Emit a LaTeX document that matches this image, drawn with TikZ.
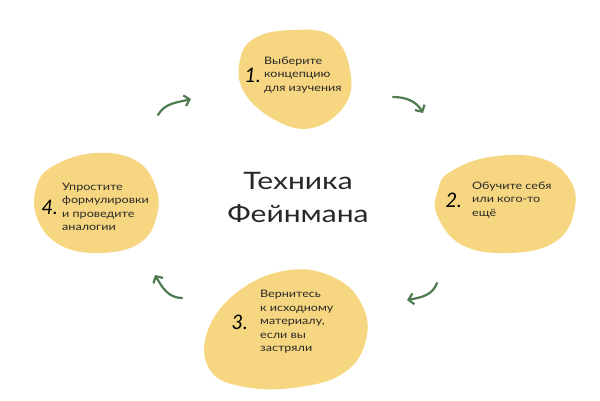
\documentclass[tikz,border=0pt]{standalone}
\usepackage{fontspec}
\setmainfont{Lato}
\newfontfamily\stepfont{Lato}[FakeStretch=1.22]
\newfontfamily\titlefont{Lato}[FakeStretch=1.25]
\usetikzlibrary{arrows.meta}
\usetikzlibrary{positioning}
\definecolor{blobyellow}{RGB}{246,214,128}
\definecolor{leafgreen}{RGB}{78,122,80}
\definecolor{inkgray}{RGB}{40,40,40}
\tikzstyle{blob} = [
    fill=blobyellow,
    draw=none
]
\tikzstyle{step_text} = [
    anchor=west,
    align=left,
    text=inkgray,
    font=\stepfont\fontsize{10.3}{13.5}\selectfont,
    inner sep=0pt
]
\tikzstyle{step_num} = [
    text=black,
    font=\fontsize{20}{20}\selectfont\itshape,
    inner sep=0pt
]
\tikzstyle{cycle_arrow} = [
    draw=leafgreen,
    line width=2.2pt,
    line cap=round,
    -{Straight Barb[length=5pt, width=11pt]}
]

\begin{document}
\begin{tikzpicture}[x=1pt, y=1pt]
\useasboundingbox (0,0) rectangle (600,400);
% blobs
\fill [blob] plot [smooth cycle, tension=0.7] coordinates {
    (255,362) (292,370) (332,364) (350,330) (345,295)
    (312,272) (275,280) (244,308) (240,340)};
\fill [blob] plot [smooth cycle, tension=0.7] coordinates {
    (450,228) (490,243) (540,242) (570,220) (574,188)
    (555,158) (510,147) (462,155) (437,185) (438,210)};
\fill [blob] plot [smooth cycle, tension=0.7] coordinates {
    (240,110) (290,130) (335,122) (362,95) (366,60)
    (345,28) (300,13) (245,13) (210,30) (208,70)};
\fill [blob] plot [smooth cycle, tension=0.7] coordinates {
    (55,235) (95,247) (135,240) (155,215) (157,185)
    (140,157) (100,147) (60,155) (37,182) (37,215)};
% steps
\node [step_text] (t1) at (264,325) {Выберите\\концепцию\\для изучения};
\node [step_num, left=3pt of t1] (n1) {1.};
\node [step_text] (t2) at (472,200) {Обучите себя\\или кого-то\\ещё};
\node [step_num, left=10pt of t2] (n2) {2.};
\node [step_text] (t3) at (260,78) {Вернитесь\\к исходному\\материалу,\\если вы\\застряли};
\node [step_num, left=12pt of t3] (n3) {3.};
\node [step_text] (t4) at (62,193) {Упростите\\формулировки\\и проведите\\аналогии};
\node [step_num, left=4pt of t4] (n4) {4.};
\node [align=center, text=inkgray, font=\titlefont\fontsize{24}{33}\selectfont] (title) at (298,203) {Техника\\Фейнмана};
% arrows
\coordinate (a1s) at (158,285);
\coordinate (a1e) at (191,301);
\coordinate (a2s) at (393,303);
\coordinate (a2e) at (423,287);
\coordinate (a3s) at (437,117);
\coordinate (a3e) at (407,100);
\coordinate (a4s) at (182,102);
\coordinate (a4e) at (155,125);
\draw [cycle_arrow] (a1s) to[out=60, in=195] (a1e);
\draw [cycle_arrow] (a2s) to[out=0, in=120] (a2e);
\draw [cycle_arrow] (a3s) to[out=-110, in=10] (a3e);
\draw [cycle_arrow] (a4s) to[out=180, in=-60] (a4e);
\end{tikzpicture}
\end{document}
